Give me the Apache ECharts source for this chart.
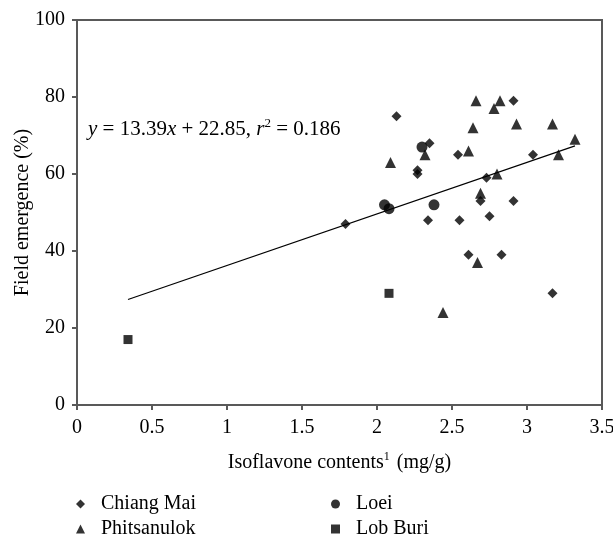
<!DOCTYPE html>
<html>
<head>
<meta charset="utf-8">
<script src="https://cdn.jsdelivr.net/npm/echarts@6/dist/echarts.min.js"></script>
<style>
  html, body { margin: 0; padding: 0; background: #fff; }
  #chart { width: 613px; height: 539px; }
</style>
</head>
<body>
<div id="chart"></div>
<script>
// values
const chiangMaiX = [1.79, 2.13, 2.35, 2.27, 2.27, 2.34, 2.54, 2.55, 2.61, 2.69, 2.73, 2.75, 2.83, 2.91, 2.91, 3.04, 3.17]
const chiangMaiY = [47, 75, 68, 61, 60, 48, 65, 48, 39, 53, 59, 49, 39, 79, 53, 65, 29]
const phitsanulokX = [2.09, 2.32, 2.44, 2.61, 2.64, 2.66, 2.67, 2.69, 2.78, 2.80, 2.82, 2.93, 3.17, 3.21, 3.32]
const phitsanulokY = [63, 65, 24, 66, 72, 79, 37, 55, 77, 60, 79, 73, 73, 65, 69]
const loeiX = [2.05, 2.08, 2.30, 2.38]
const loeiY = [52, 51, 67, 52]
const lobBuriX = [0.34, 2.08]
const lobBuriY = [17, 29]

// fitted line y = 13.39x + 22.85 over the data range
const fitSlope = 13.39
const fitIntercept = 22.85
const fitRange = [0.34, 3.32]

const font = 'Liberation Serif'
const axisColor = '#595959'
const zip = (xs, ys) => xs.map((x, i) => [x, ys[i]])

// one legend box per entry, laid out as two columns like the figure
const legendItem = (name, icon, left, top) => ({
    left: left, top: top,
    padding: 0,
    itemWidth: 9, itemHeight: 9,
    textStyle: { fontFamily: font, fontSize: 20, color: '#000', padding: [0, 0, 0, 11] },
    data: [{ name: name, icon: icon }]
})

const chart = echarts.init(document.getElementById('chart'))

const option = {
    animation: false,
    textStyle: { fontFamily: font },
    grid: {
        left: 77, right: 11, top: 20, bottom: 134,
        outerBoundsMode: 'none',
        show: true,
        borderColor: axisColor,
        borderWidth: 2
    },
    legend: [
        legendItem('Chiang Mai', 'diamond', 76, 494),
        legendItem('Phitsanulok', 'triangle', 76, 519),
        legendItem('Loei', 'circle', 331, 494),
        legendItem('Lob Buri', 'rect', 331, 519)
    ],
    xAxis: {
        type: 'value',
        min: 0, max: 3.5, interval: 0.5,
        name: 'Isoflavone contents{sup|1} (mg/g)',
        nameLocation: 'middle',
        nameGap: 46,
        nameMoveOverlap: false,
        nameTextStyle: {
            fontFamily: font, fontSize: 20, color: '#000',
            rich: { sup: { fontFamily: font, fontSize: 12, color: '#000', padding: [0, 2, 11, 0] } }
        },
        axisLine: { lineStyle: { color: axisColor, width: 2 } },
        axisTick: { show: true, length: 5, lineStyle: { color: axisColor, width: 2 } },
        axisLabel: { margin: 13, fontFamily: font, fontSize: 20, color: '#000' },
        splitLine: { show: false }
    },
    yAxis: {
        type: 'value',
        min: 0, max: 100, interval: 20,
        name: 'Field emergence (%)',
        nameLocation: 'middle',
        nameGap: 44,
        nameMoveOverlap: false,
        nameTextStyle: { fontFamily: font, fontSize: 20, color: '#000' },
        axisLine: { show: true, lineStyle: { color: axisColor, width: 2 } },
        axisTick: { show: true, length: 5, lineStyle: { color: axisColor, width: 2 } },
        axisLabel: { margin: 12, fontFamily: font, fontSize: 20, color: '#000' },
        splitLine: { show: false }
    },
    graphic: [{
        type: 'text',
        left: 88, top: 117,
        style: {
            text: '{i|y} = 13.39{i|x} + 22.85, {i|r}{sup|2} = 0.186',
            font: '21px "Liberation Serif"',
            fill: '#000',
            rich: {
                i: { fontFamily: font, fontSize: 21, fontStyle: 'italic', fill: '#000' },
                sup: { fontFamily: font, fontSize: 13, fill: '#000', padding: [0, 0, 11, 0] }
            }
        }
    }],
    series: [
        {
            name: 'fit',
            type: 'line',
            data: fitRange.map(x => [x, fitSlope * x + fitIntercept]),
            showSymbol: false,
            silent: true,
            lineStyle: { color: '#000', width: 1.2 },
            z: 1
        },
        {
            name: 'Chiang Mai', type: 'scatter', symbol: 'diamond', symbolSize: 10,
            itemStyle: { color: '#000' }, data: zip(chiangMaiX, chiangMaiY)
        },
        {
            name: 'Phitsanulok', type: 'scatter', symbol: 'triangle', symbolSize: 11,
            itemStyle: { color: '#000' }, data: zip(phitsanulokX, phitsanulokY)
        },
        {
            name: 'Loei', type: 'scatter', symbol: 'circle', symbolSize: 11,
            itemStyle: { color: '#000' }, data: zip(loeiX, loeiY)
        },
        {
            name: 'Lob Buri', type: 'scatter', symbol: 'rect', symbolSize: 9,
            itemStyle: { color: '#000' }, data: zip(lobBuriX, lobBuriY)
        }
    ]
}

chart.setOption(option)
</script>
</body>
</html>
